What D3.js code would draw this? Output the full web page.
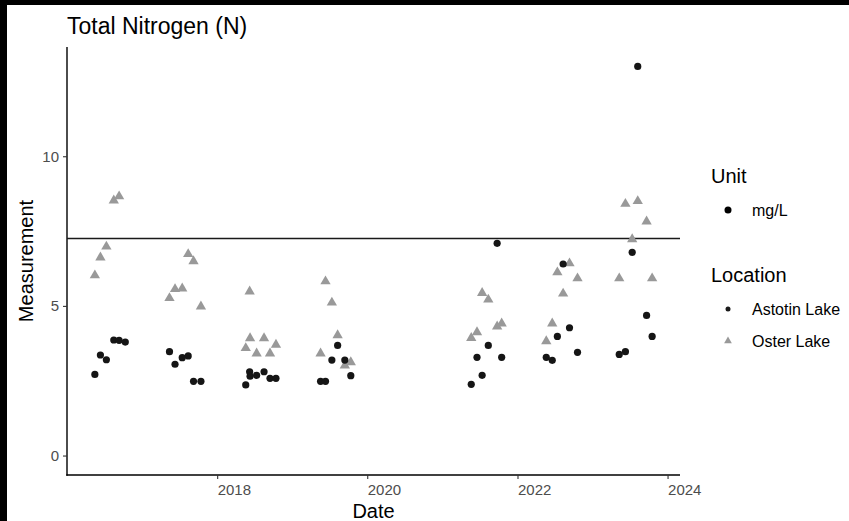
<!DOCTYPE html>
<html>
<head>
<meta charset="utf-8">
<script src="https://cdn.jsdelivr.net/npm/d3@7"></script>
<style>
  html, body { margin: 0; padding: 0; background: #000; }
  svg { display: block; }
  text { font-family: "Liberation Sans", Arial, sans-serif; }
</style>
</head>
<body>
<svg id="chart" width="849" height="521"></svg>
<script>
// Sampling dates (both lakes sampled on the same visits)
const dates2016 = ["2016-05-16", "2016-06-12", "2016-07-11", "2016-08-16", "2016-09-11", "2016-10-11"];
const dates2017 = ["2017-05-14", "2017-06-10", "2017-07-15", "2017-08-13", "2017-09-08", "2017-10-14"];
const dates2018 = ["2018-05-20", "2018-06-08", "2018-06-10", "2018-07-12", "2018-08-17", "2018-09-15", "2018-10-14"];
const dates2019 = ["2019-05-19", "2019-06-12", "2019-07-13", "2019-08-10", "2019-09-14", "2019-10-13"];
const dates2021 = ["2021-05-21", "2021-06-18", "2021-07-13", "2021-08-12", "2021-09-24", "2021-10-16"];
const dates2022 = ["2022-05-21", "2022-06-19", "2022-07-14", "2022-08-11", "2022-09-11", "2022-10-20"];
const dates2023 = ["2023-05-11", "2023-06-10", "2023-07-13", "2023-08-09", "2023-09-21", "2023-10-18"];

// Total nitrogen, mg/L
const astotin2016 = [2.71, 3.36, 3.20, 3.86, 3.85, 3.79];
const astotin2017 = [3.47, 3.05, 3.27, 3.33, 2.48, 2.48];
const astotin2018 = [2.36, 2.80, 2.65, 2.68, 2.80, 2.58, 2.58];
const astotin2019 = [2.48, 2.48, 3.19, 3.68, 3.19, 2.67];
const astotin2021 = [2.38, 3.28, 2.68, 3.68, 7.09, 3.28];
const astotin2022 = [3.28, 3.18, 3.98, 6.40, 4.27, 3.45];
const astotin2023 = [3.38, 3.47, 6.79, 13.0, 4.68, 3.98];

const oster2016 = [6.02, 6.62, 6.98, 8.52, 8.66, null];
const oster2017 = [5.26, 5.56, 5.58, 6.73, 6.49, 4.98];
const oster2018 = [3.59, 5.48, 3.92, 3.41, 3.92, 3.41, 3.70];
const oster2019 = [3.41, 5.82, 5.11, 4.02, 3.01, 3.12];
const oster2021 = [3.93, 4.12, 5.43, 5.21, 4.31, 4.41];
const oster2022 = [3.82, 4.41, 6.12, 5.41, 6.42, 5.92];
const oster2023 = [5.92, 8.41, 7.23, 8.50, 7.82, 5.92];

const guideline = 7.25;
const yTicks = [0, 5, 10];
const xTickYears = [2018, 2020, 2022, 2024];
const locations = ["Astotin Lake", "Oster Lake"];
const units = ["mg/L"];

const allDates = [dates2016, dates2017, dates2018, dates2019, dates2021, dates2022, dates2023];
const astotin = [astotin2016, astotin2017, astotin2018, astotin2019, astotin2021, astotin2022, astotin2023];
const oster = [oster2016, oster2017, oster2018, oster2019, oster2021, oster2022, oster2023];

const parse = d3.timeParse("%Y-%m-%d");
const records = [];
allDates.forEach((ds, i) => {
  ds.forEach((d, j) => {
    if (astotin[i][j] != null) records.push({ date: parse(d), value: astotin[i][j], loc: "Astotin Lake" });
    if (oster[i][j] != null) records.push({ date: parse(d), value: oster[i][j], loc: "Oster Lake" });
  });
});

const svg = d3.select("#chart");
// page backdrop and white canvas
svg.append("rect").attr("width", 849).attr("height", 521).attr("fill", "#000");
svg.append("rect").attr("x", 7).attr("y", 5).attr("width", 842).attr("height", 516).attr("fill", "#fff");

const panel = { left: 67, right: 680, top: 47, bottom: 475 };

// x scale with 5% padding on each side of the data range
const xExt = d3.extent(records, d => d.date);
const span = xExt[1] - xExt[0];
const x = d3.scaleTime()
  .domain([new Date(+xExt[0] - span * 0.05), new Date(+xExt[1] + span * 0.05)])
  .range([panel.left, panel.right]);

const yMax = d3.max(records, d => d.value);
const yPad = yMax * 0.05;
const y = d3.scaleLinear().domain([-yPad, yMax + yPad]).range([panel.bottom, panel.top]);

const tickColor = "#4d4d4d";
const font = "Liberation Sans, Arial, sans-serif";

// axes
const xAxis = d3.axisBottom(x)
  .tickValues(xTickYears.map(yr => new Date(yr, 0, 1)))
  .tickFormat(d3.timeFormat("%Y"))
  .tickSizeInner(4).tickSizeOuter(0).tickPadding(5);
const gx = svg.append("g").attr("transform", `translate(0,${panel.bottom})`).call(xAxis);
gx.select(".domain").attr("stroke", "#000").attr("stroke-width", 1.4)
  .attr("d", `M${panel.left - 0.7},0H${panel.right}`);
gx.selectAll(".tick line").attr("stroke", "#333").attr("stroke-width", 1.1);
gx.selectAll(".tick text").attr("fill", tickColor).attr("font-size", 15).attr("font-family", font)
  .attr("text-anchor", "start").attr("dy", "0.75em");

const yAxis = d3.axisLeft(y).tickValues(yTicks).tickSizeInner(4).tickSizeOuter(0).tickPadding(4);
const gy = svg.append("g").attr("transform", `translate(${panel.left},0)`).call(yAxis);
gy.select(".domain").attr("stroke", "#000").attr("stroke-width", 1.4)
  .attr("d", `M0,${panel.top}V${panel.bottom + 0.7}`);
gy.selectAll(".tick line").attr("stroke", "#333").attr("stroke-width", 1.1);
gy.selectAll(".tick text").attr("fill", tickColor).attr("font-size", 15).attr("font-family", font);

// guideline
svg.append("line")
  .attr("x1", panel.left).attr("x2", panel.right)
  .attr("y1", y(guideline)).attr("y2", y(guideline))
  .attr("stroke", "#1a1a1a").attr("stroke-width", 1.6);

// points
const triangle = d3.symbol().type(d3.symbolTriangle).size(46);
const triPts = svg.append("g");
records.filter(d => d.loc === "Oster Lake").forEach(d => {
  triPts.append("path").attr("d", triangle)
    .attr("transform", `translate(${x(d.date)},${y(d.value)})`)
    .attr("fill", "#999999");
});
const dotPts = svg.append("g");
records.filter(d => d.loc === "Astotin Lake").forEach(d => {
  dotPts.append("circle").attr("cx", x(d.date)).attr("cy", y(d.value)).attr("r", 3.6).attr("fill", "#151515");
});

// titles
svg.append("text").attr("x", 67).attr("y", 34).attr("font-size", 23).attr("fill", "#000").text("Total Nitrogen (N)");
svg.append("text").attr("x", (panel.left + panel.right) / 2).attr("y", 518).attr("text-anchor", "middle")
  .attr("font-size", 20).attr("fill", "#000").text("Date");
svg.append("text").attr("transform", `translate(33,${(panel.top + panel.bottom) / 2}) rotate(-90)`)
  .attr("text-anchor", "middle").attr("font-size", 20).attr("fill", "#000").text("Measurement");

// legends
const lg = svg.append("g");
lg.append("text").attr("x", 711).attr("y", 183).attr("font-size", 20).attr("fill", "#000").text("Unit");
units.forEach((u, i) => {
  lg.append("circle").attr("cx", 728).attr("cy", 210 + i * 24).attr("r", 3.5).attr("fill", "#000");
  lg.append("text").attr("x", 752).attr("y", 216 + i * 24).attr("font-size", 16).attr("fill", "#000").text(u);
});
lg.append("text").attr("x", 711).attr("y", 282).attr("font-size", 20).attr("fill", "#000").text("Location");
locations.forEach((l, i) => {
  const cy = 309 + i * 32;
  if (l === "Astotin Lake") {
    lg.append("circle").attr("cx", 728).attr("cy", cy).attr("r", 2.5).attr("fill", "#1a1a1a");
  } else {
    lg.append("path").attr("d", d3.symbol().type(d3.symbolTriangle).size(26))
      .attr("transform", `translate(728,${cy})`).attr("fill", "#999999");
  }
  lg.append("text").attr("x", 752).attr("y", cy + 6).attr("font-size", 16).attr("fill", "#000").text(l);
});
</script>
</body>
</html>
